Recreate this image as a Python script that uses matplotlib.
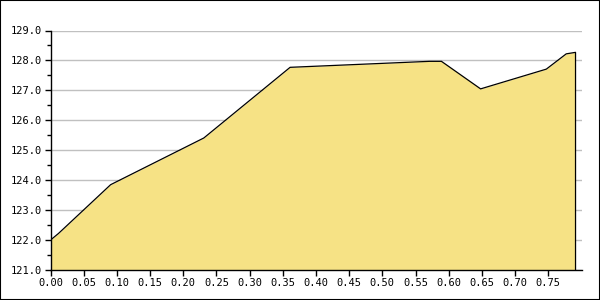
import numpy as np
import matplotlib
matplotlib.use("Agg")
import matplotlib.pyplot as plt
from matplotlib.ticker import MultipleLocator, FormatStrFormatter
from matplotlib.patches import Rectangle

# values
x_vals = [0.0, 0.012, 0.0906, 0.231, 0.361, 0.571, 0.589, 0.648, 0.747, 0.777, 0.791]
y_vals = [122.0, 122.22, 123.85, 125.41, 127.77, 127.97, 127.97, 127.05, 127.71, 128.22, 128.27]

y_min, y_max = 121.0, 129.0
x_min, x_max = 0.0, 0.8

fill_color = '#F6E285'
grid_color = '#C0C0C0'

fig = plt.figure(figsize=(6, 3), dpi=100)
ax = fig.add_axes([50.5 / 600, 30 / 300, 531 / 600, 239.5 / 300])

x = np.array(x_vals)
y = np.array(y_vals)
ax.fill_between(x, y_min, y, color=fill_color, linewidth=0, zorder=2)
ax.plot(list(x) + [x[-1]], list(y) + [y_min], color='black', linewidth=0.9, zorder=3)

ax.set_xlim(x_min, x_max)
ax.set_ylim(y_min, y_max)

ax.yaxis.set_major_locator(MultipleLocator(1.0))
ax.yaxis.set_minor_locator(MultipleLocator(0.5))
ax.yaxis.set_major_formatter(FormatStrFormatter('%.1f'))

# the last tick label (0.80) is not shown in the reference
ax.set_xticks(np.arange(0, 0.751, 0.05))
ax.xaxis.set_major_formatter(FormatStrFormatter('%.2f'))

ax.grid(True, axis='y', which='major', color=grid_color, linewidth=1, zorder=1)
ax.set_axisbelow(True)

for side in ['top', 'right']:
    ax.spines[side].set_visible(False)
for side in ['left', 'bottom']:
    ax.spines[side].set_linewidth(1.0)
    ax.spines[side].set_zorder(4)

ax.tick_params(axis='both', which='major', direction='out', length=4, width=1,
               labelsize=7.5, pad=2)
ax.tick_params(axis='y', which='minor', direction='out', length=3, width=1)
for lab in ax.get_xticklabels() + ax.get_yticklabels():
    lab.set_family('DejaVu Sans Mono')

# black border around the whole image
fig.patches.append(Rectangle((0, 0), 1, 1, transform=fig.transFigure, fill=False,
                             edgecolor='black', linewidth=1.5))

fig.savefig('out.png', dpi=100)
plt.close(fig)
